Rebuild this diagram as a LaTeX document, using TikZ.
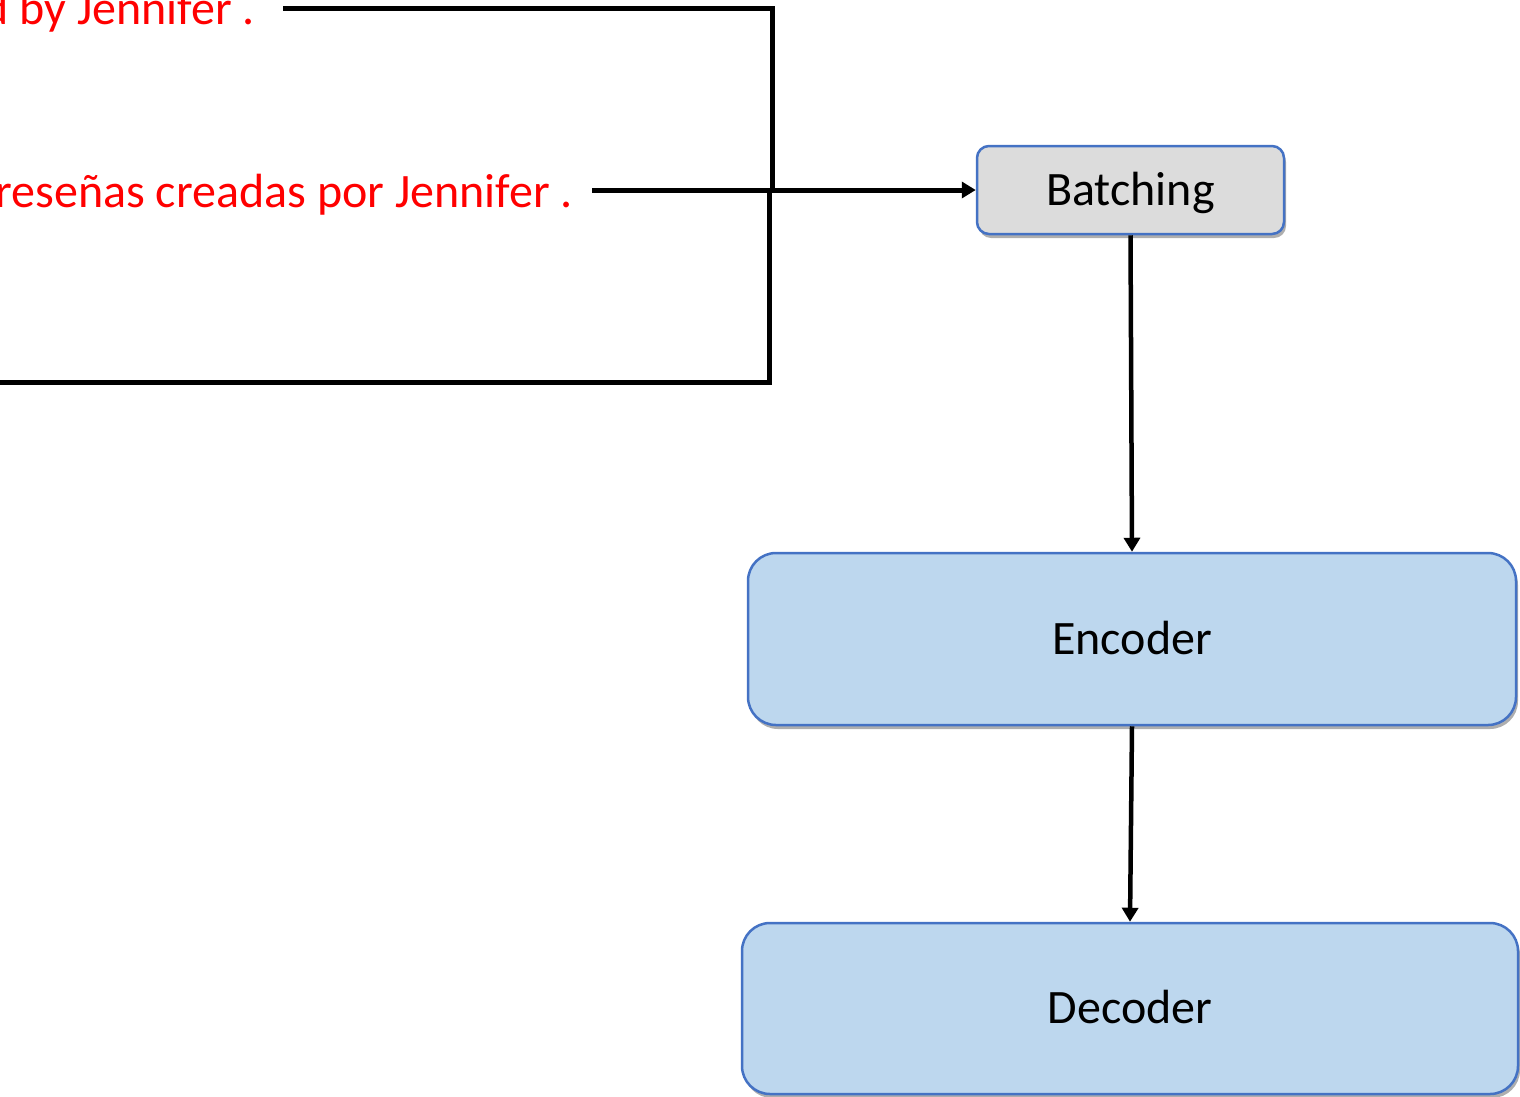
\documentclass[tikz,border=0pt]{standalone}
\usepackage{fontspec}
\setmainfont{Carlito}
\usetikzlibrary{arrows.meta,shadows}
\definecolor{redtxt}{RGB}{255,0,0}
\definecolor{boxblue}{RGB}{189,215,238}
\definecolor{edgeblue}{RGB}{68,114,196}
\definecolor{boxgray}{RGB}{220,220,220}
\begin{document}
\begin{tikzpicture}[x=1pt,y=-1pt,
  lbl/.style={font=\fontsize{48}{56}\selectfont, text=redtxt, inner sep=0pt, anchor=base east},
  blk/.style={draw=edgeblue, line width=2.5pt, font=\fontsize{48}{56}\selectfont, text depth=3pt,
    drop shadow={shadow xshift=2pt, shadow yshift=-4pt, opacity=0.45, fill=black!70}},
  conn/.style={line width=5pt, line join=miter},
  arr/.style={line width=4.5pt, -{Triangle[length=14pt,width=16pt]}},
  arrw/.style={line width=5pt, -{Triangle[length=14pt,width=16pt]}}]
\useasboundingbox (0,0) rectangle (1520,1096);

\node[lbl] (t1) at (255,24) {d by Jennifer .};
\node[lbl] (t2) at (573,207) {reseñas creadas por Jennifer .};

\node[blk, fill=boxgray, rounded corners=12pt, minimum width=307pt, minimum height=88pt] (bat) at (1130.5,190) {Batching};
\node[blk, fill=boxblue, rounded corners=28pt, minimum width=768pt, minimum height=172pt] (enc) at (1132,639) {Encoder};
\node[blk, fill=boxblue, rounded corners=28pt, minimum width=776pt, minimum height=171pt] (dec) at (1130,1008.5) {Decoder};

\coordinate (s1) at (283,8);
\coordinate (j1) at (772,8);
\coordinate (s2) at (592,189);
\coordinate (s3) at (0,382);
\coordinate (j3) at (769,382);

\draw[conn] (s1) -- (j1) -- (j1 |- s2);
\draw[conn] (s3) -- (j3) -- (j3 |- s2);
\draw[arrw] (bat.west -| s2) -- (bat.west);
\draw[arr] (bat.south) -- (enc.north);
\draw[arr] (enc.south) -- (dec.north);
\end{tikzpicture}
\end{document}
